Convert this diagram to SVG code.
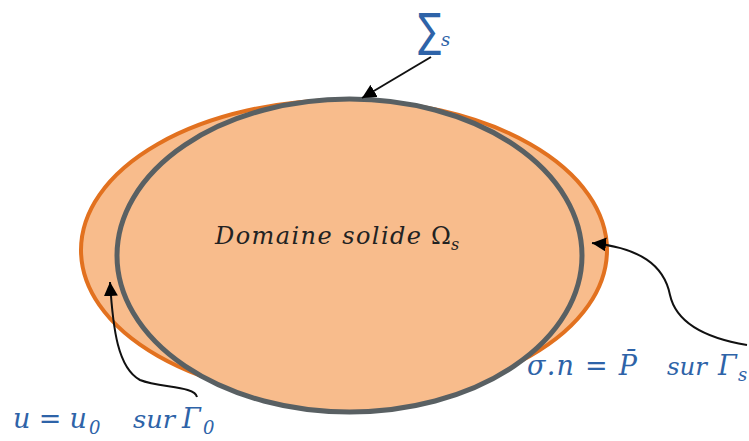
<svg xmlns="http://www.w3.org/2000/svg" width="749" height="441" viewBox="0 0 749 441">
<defs>
<style>
.math{font-family:"DejaVu Serif","Liberation Serif",serif;font-style:italic;fill:#2E63A8;}
.lbl{font-family:"DejaVu Serif","Liberation Serif",serif;font-style:italic;fill:#222222;}
.up{font-style:normal;}
.conn{fill:none;stroke:#111111;stroke-width:2;}
</style>
<marker id="ah" viewBox="0 0 10 10" refX="10" refY="5" markerWidth="14" markerHeight="14" markerUnits="userSpaceOnUse" orient="auto">
<path d="M0,0 L10,5 L0,10 Z" fill="#000000"/>
</marker>
</defs>
<rect width="749" height="441" fill="#ffffff"/>
<g id="domaine">
<ellipse cx="344" cy="250" rx="263" ry="150" fill="#F8BC8C" stroke="#E2711F" stroke-width="4"/>
<ellipse cx="349.5" cy="255.5" rx="232.5" ry="156.5" fill="#F8BC8C" stroke="#596063" stroke-width="5"/>
<text class="lbl" x="215" y="244" font-size="24" textLength="206" lengthAdjust="spacing">Domaine solide</text>
<text class="lbl up" x="431" y="244" font-size="24">Ω</text>
<text class="lbl" x="451" y="250" font-size="16">s</text>
</g>
<g id="sigma-s">
<text x="0" y="0" font-family="DejaVu Sans,sans-serif" font-size="46" fill="#2E63A8" transform="translate(418,46) scale(0.75,1)">∑</text>
<text class="math" x="441" y="46" font-size="18">s</text>
</g>
<g id="gamma-s-label">
<text class="math" x="527" y="375" font-size="27" textLength="110" lengthAdjust="spacing">σ.n = P̄</text>
<text class="math" x="667" y="375" font-size="25" textLength="40" lengthAdjust="spacingAndGlyphs">sur</text>
<text class="math" x="718" y="375" font-size="27">Γ</text>
<text class="math" x="738" y="381" font-size="18">s</text>
</g>
<g id="gamma-0-label">
<text class="math" x="13" y="428" font-size="27" textLength="74" lengthAdjust="spacing">u = u</text>
<text class="math" x="89" y="434" font-size="18">0</text>
<text class="math" x="133" y="428" font-size="25" textLength="42" lengthAdjust="spacingAndGlyphs">sur</text>
<text class="math" x="182" y="428" font-size="27">Γ</text>
<text class="math" x="203" y="434" font-size="18">0</text>
</g>
<g id="connectors">
<line class="conn" x1="431" y1="57" x2="362" y2="98" marker-end="url(#ah)"/>
<path class="conn" d="M747,345 C705,338 676,322 670,295 C664,265 640,248 592,243" marker-end="url(#ah)"/>
<path class="conn" d="M197,397 C195,386 160,388 140,380 C118,368 113,330 110,282" marker-end="url(#ah)"/>
</g>
</svg>
